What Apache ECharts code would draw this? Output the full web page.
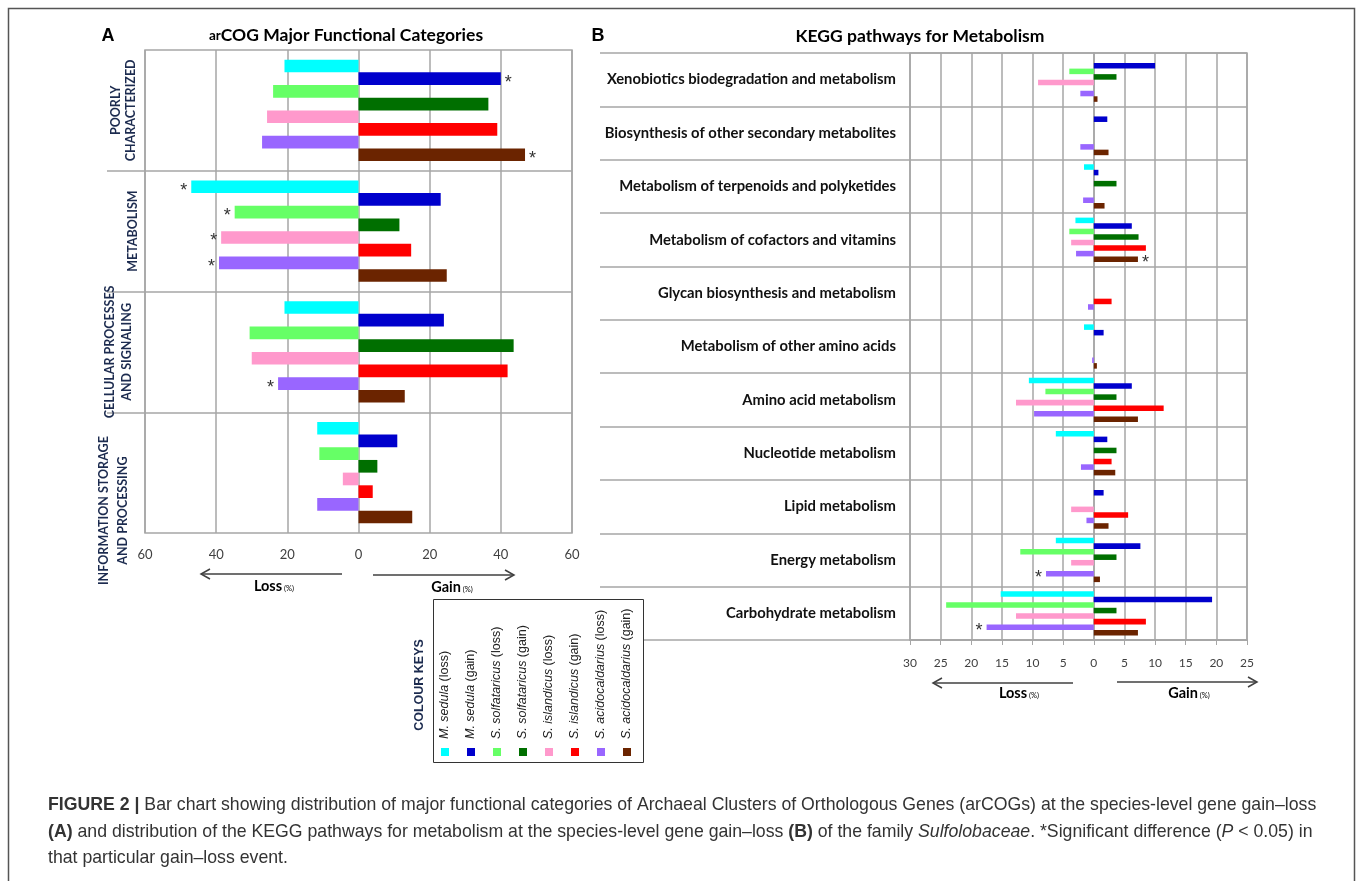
<!DOCTYPE html>
<html><head><meta charset="utf-8">
<script src="https://cdn.jsdelivr.net/npm/echarts@6/dist/echarts.min.js"></script>
<style>html,body{margin:0;padding:0;background:#fff}#c{width:1357px;height:881px}</style>
</head><body><div id="c"></div>
<script>
// ---------- DATA ----------
const seriesNames = ['M. sedula (loss)','M. sedula (gain)','S. solfataricus (loss)','S. solfataricus (gain)','S. islandicus (loss)','S. islandicus (gain)','S. acidocaldarius (loss)','S. acidocaldarius (gain)'];
const legendItalic = ['M. sedula','M. sedula','S. solfataricus','S. solfataricus','S. islandicus','S. islandicus','S. acidocaldarius','S. acidocaldarius'];
const legendSuffix = ['(loss)','(gain)','(loss)','(gain)','(loss)','(gain)','(loss)','(gain)'];
const seriesColors = ['#00FFFF','#0000CC','#66FF66','#006F00','#FF99CC','#FF0000','#9966FF','#6B2400'];

// Panel A: arCOG major functional categories (percent; loss values as magnitudes)
const categoriesA = ['POORLY\nCHARACTERIZED','METABOLISM','CELLULAR PROCESSES\nAND SIGNALING','INFORMATION STORAGE\nAND PROCESSING'];
const msedulaLossA = [20.8, 47.0, 20.8, 11.6];
const msedulaGainA = [40.0, 23.1, 24.0, 10.9];
const ssolfLossA   = [24.0, 34.8, 30.6, 11.0];
const ssolfGainA   = [36.5, 11.5, 43.6, 5.3];
const sislLossA    = [25.7, 38.6, 30.0, 4.4];
const sislGainA    = [39.0, 14.8, 41.9, 4.0];
const sacidoLossA  = [27.1, 39.2, 22.6, 11.6];
const sacidoGainA  = [46.8, 24.8, 13.0, 15.1];
// significant bars: [seriesIndex, categoryIndex]
const significantA = [[1,0],[7,0],[0,1],[2,1],[4,1],[6,1],[6,2]];
const ticksA = {min:-60, max:60, interval:20};

// Panel B: KEGG pathways for metabolism
const categoriesB = ['Xenobiotics biodegradation and metabolism','Biosynthesis of other secondary metabolites','Metabolism of terpenoids and polyketides','Metabolism of cofactors and vitamins','Glycan biosynthesis and metabolism','Metabolism of other amino acids','Amino acid metabolism','Nucleotide metabolism','Lipid metabolism','Energy metabolism','Carbohydrate metabolism'];
const msedulaLossB = [0, 0, 1.6, 3.0, 0, 1.6, 10.6, 6.2, 0, 6.2, 15.2];
const msedulaGainB = [10.0, 2.2, 0.75, 6.2, 0, 1.6, 6.2, 2.2, 1.6, 7.6, 19.3];
const ssolfLossB   = [4.0, 0, 0, 4.0, 0, 0, 7.9, 0, 0, 12.0, 24.1];
const ssolfGainB   = [3.7, 0, 3.7, 7.3, 0, 0, 3.7, 3.7, 0, 3.7, 3.7];
const sislLossB    = [9.1, 0, 0, 3.7, 0, 0, 12.7, 0, 3.7, 3.7, 12.7];
const sislGainB    = [0, 0, 0, 8.5, 2.9, 0, 11.4, 2.9, 5.6, 0, 8.5];
const sacidoLossB  = [2.2, 2.2, 1.75, 2.9, 0.95, 0.27, 9.75, 2.1, 1.2, 7.8, 17.5];
const sacidoGainB  = [0.6, 2.4, 1.75, 7.2, 0, 0.5, 7.2, 3.5, 2.4, 1.0, 7.2];
const significantB = [[7,3],[6,9],[6,10]];
const ticksB = {min:-30, max:25, interval:5};

// ---------- CHART ----------
const W = 1357, H = 881;
const GRID = '#a6a6a6';
const valuesA = [msedulaLossA, msedulaGainA, ssolfLossA, ssolfGainA, sislLossA, sislGainA, sacidoLossA, sacidoGainA];
const valuesB = [msedulaLossB, msedulaGainB, ssolfLossB, ssolfGainB, sislLossB, sislGainB, sacidoLossB, sacidoGainB];

function makeSeries(values, i, axisIdx, sig, gap) {
  const isLoss = i % 2 === 0;
  return {
    type: 'bar', name: seriesNames[i], xAxisIndex: axisIdx, yAxisIndex: axisIdx,
    data: values.map(v => isLoss ? -v : v),
    barGap: '0%', barCategoryGap: gap,
    itemStyle: {color: seriesColors[i]},
    label: {show: true, position: isLoss ? 'left' : 'right', distance: 4,
      formatter: p => sig.some(s => s[0] === i && s[1] === p.dataIndex) ? '*' : '',
      fontSize: 18, color: '#333', fontFamily: 'Liberation Sans', offset: [0, 4]},
    silent: true
  };
}
const series = [];
valuesA.forEach((v, i) => series.push(makeSeries(v, i, 0, significantA, '16%')));
valuesB.forEach((v, i) => series.push(makeSeries(v, i, 1, significantB, '17%')));

const absFmt = v => String(Math.abs(v));

// category label styling for panel A (rotated labels)
const catFont = {fontFamily: 'Lato', fontWeight: 'bold', fontSize: 12.5, color: '#1c2b4f'};
const catStyle = [
  {t: 'p0', lh: 15, sp: 0},
  {t: 'm1', lh: 10, sp: 0},
  {t: 'c2', lh: 17, sp: 2.5},
  {t: 'i3', lh: 19, sp: 6}
];
const catRich = {
  p0: Object.assign({lineHeight: 15}, catFont),
  m1: Object.assign({lineHeight: 10}, catFont),
  c2: Object.assign({lineHeight: 17}, catFont),
  i3: Object.assign({lineHeight: 19, padding: [0, 76, 0, 0]}, catFont),
  sp2: {lineHeight: 2.5, fontSize: 2},
  sp3: {lineHeight: 6, fontSize: 2}
};
function catFormatter(v, idx) {
  const st = catStyle[idx];
  let s = v.split('\n').map(l => '{' + st.t + '|' + l + '}').join('\n');
  if (st.sp) s += '\n{sp' + idx + '| }';
  return s;
}

// graphic helpers
const g = [];
function txt(x, y, text, font, fill, align, rich, rot) {
  g.push({type: 'text', x: x, y: y, rotation: rot || 0, silent: true, z: 20,
    style: {text: text, font: font, fill: fill || '#000', align: align || 'center', verticalAlign: 'middle', rich: rich}});
}
function arrow(x1, x2, y) {
  const d = x2 > x1 ? -1 : 1;
  g.push({type: 'polyline', silent: true, shape: {points: [[x1, y], [x2, y]]}, style: {stroke: '#404040', lineWidth: 1.5, fill: null}});
  g.push({type: 'polyline', silent: true, shape: {points: [[x2 + d * 9, y - 5], [x2, y], [x2 + d * 9, y + 5]]}, style: {stroke: '#404040', lineWidth: 1.5, fill: null}});
}
// frame
g.push({type: 'rect', silent: true, shape: {x: 8.5, y: 8.5, width: 1346, height: 900}, style: {fill: null, stroke: '#555', lineWidth: 1.5}});
// panel letters & titles
txt(108, 36, 'A', 'bold 18px "Liberation Sans"', '#000');
txt(598, 36, 'B', 'bold 18px "Liberation Sans"', '#000');
txt(346, 35, '{s|ar}{b|COG Major Functional Categories}', '', '#000', 'center',
  {s: {font: 'bold 13.5px Lato', fill: '#000', verticalAlign: 'bottom', padding: [0, 0, 1, 0]}, b: {font: 'bold 17.5px Lato', fill: '#000', verticalAlign: 'bottom'}});
txt(920, 36, 'KEGG pathways for Metabolism', 'bold 17.5px Lato', '#000');
// loss / gain arrows + labels
arrow(342, 201, 574); arrow(373, 514, 575);
arrow(1073, 933, 683); arrow(1117, 1257, 682);
const lgRich = {b: {font: 'bold 14.5px Lato', fill: '#000', verticalAlign: 'bottom'}, s: {font: '7.5px Lato', fill: '#000', verticalAlign: 'bottom', padding: [0, 0, 1, 2]}};
txt(274, 586, '{b|Loss}{s|(%)}', '', '#000', 'center', lgRich);
txt(452, 587, '{b|Gain}{s|(%)}', '', '#000', 'center', lgRich);
txt(1019, 693, '{b|Loss}{s|(%)}', '', '#000', 'center', lgRich);
txt(1189, 693, '{b|Gain}{s|(%)}', '', '#000', 'center', lgRich);
// legend (colour keys)
g.push({type: 'rect', silent: true, z: 10, shape: {x: 433.5, y: 599.5, width: 210, height: 163}, style: {fill: '#fff', stroke: '#333', lineWidth: 1}});
txt(420, 685, 'COLOUR KEYS', 'bold 12.5px "Liberation Sans"', '#1c2b4f', 'center', null, Math.PI / 2);
const legendChildren = [];
seriesColors.forEach((c, i) => {
  legendChildren.push({type: 'rect', z: 30, shape: {x: -4, y: i * 26 - 4, width: 8, height: 8}, style: {fill: c}});
  legendChildren.push({type: 'text', z: 30, x: 13, y: i * 26, style: {
    text: '{i|' + legendItalic[i] + '} {n|' + legendSuffix[i] + '}', align: 'left', verticalAlign: 'middle',
    rich: {i: {font: 'italic 12.5px "Liberation Sans"', fill: '#222'}, n: {font: '12.5px "Liberation Sans"', fill: '#222'}}}});
});
g.push({type: 'group', x: 445, y: 752, rotation: Math.PI / 2, z: 30, silent: true, children: legendChildren});
// caption
const capRich = {
  b: {font: 'bold 17.7px "Liberation Sans"', fill: '#333'},
  n: {font: '17.7px "Liberation Sans"', fill: '#333'},
  i: {font: 'italic 17.7px "Liberation Sans"', fill: '#333'}
};
txt(48, 805, '{b|FIGURE 2 |}{n| Bar chart showing distribution of major functional categories of Archaeal Clusters of Orthologous Genes (arCOGs) at the species-level gene gain\u2013loss}', '', '#333', 'left', capRich);
txt(48, 832, '{b|(A)}{n| and distribution of the KEGG pathways for metabolism at the species-level gene gain\u2013loss }{b|(B)}{n| of the family }{i|Sulfolobaceae}{n|. *Significant difference (}{i|P}{n| < 0.05) in}', '', '#333', 'left', capRich);
txt(48, 858, '{n|that particular gain\u2013loss event.}', '', '#333', 'left', capRich);

const option = {
  animation: false,
  backgroundColor: '#fff',
  grid: [
    {left: 145, right: W - 572, top: 50, bottom: H - 533, show: true, borderColor: GRID, borderWidth: 1.5},
    {left: 910, right: W - 1247, top: 53, bottom: H - 640, show: true, borderColor: GRID, borderWidth: 1.5},
    {left: 107, right: W - 572, top: 50, bottom: H - 533},
    {left: 600, right: W - 1247, top: 53, bottom: H - 640}
  ],
  xAxis: [
    {gridIndex: 0, type: 'value', min: ticksA.min, max: ticksA.max, interval: ticksA.interval,
      axisLine: {show: false}, axisTick: {show: false},
      axisLabel: {formatter: absFmt, fontFamily: 'Lato', fontSize: 13, color: '#404040', margin: 15},
      splitLine: {show: true, lineStyle: {color: GRID, width: 1.5}}},
    {gridIndex: 1, type: 'value', min: ticksB.min, max: ticksB.max, interval: ticksB.interval,
      axisLine: {show: true, lineStyle: {color: GRID, width: 1.5}}, axisTick: {show: true, length: 5, lineStyle: {color: GRID}},
      axisLabel: {formatter: absFmt, fontFamily: 'Lato', fontSize: 12, color: '#404040', margin: 17},
      splitLine: {show: true, lineStyle: {color: GRID, width: 1.5}}},
    {gridIndex: 2, type: 'value', show: false},
    {gridIndex: 3, type: 'value', show: false}
  ],
  yAxis: [
    {gridIndex: 0, type: 'category', data: categoriesA, inverse: true,
      axisLine: {show: false}, axisTick: {show: false}, splitLine: {show: false},
      axisLabel: Object.assign({interval: 0, rotate: 90, margin: 7, formatter: catFormatter, rich: catRich}, catFont)},
    {gridIndex: 1, type: 'category', data: categoriesB, inverse: true,
      axisLine: {show: true, lineStyle: {color: GRID, width: 1.5}},
      axisTick: {show: false},
      splitLine: {show: false},
      axisLabel: {interval: 0, margin: 14, fontFamily: 'Lato', fontWeight: 'bold', fontSize: 14.8, color: '#111'}},
    {gridIndex: 2, type: 'category', data: categoriesA, inverse: true,
      axisLine: {show: false}, axisTick: {show: false}, axisLabel: {show: false},
      splitLine: {show: true, showMinLine: false, showMaxLine: false, lineStyle: {color: GRID, width: 1.5}}},
    {gridIndex: 3, type: 'category', data: categoriesB, inverse: true,
      axisLine: {show: false}, axisTick: {show: false}, axisLabel: {show: false},
      splitLine: {show: true, lineStyle: {color: GRID, width: 1.5}}}
  ],
  series: series,
  graphic: g
};
const chart = echarts.init(document.getElementById('c'));
chart.setOption(option);
</script>
</body></html>
